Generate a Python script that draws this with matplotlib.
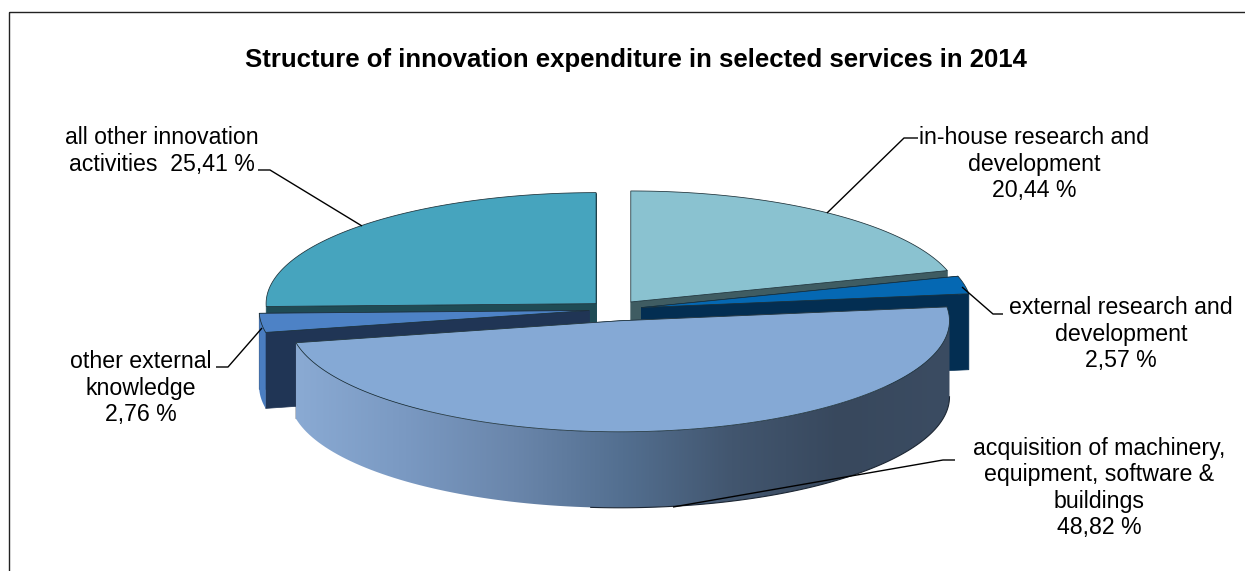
import numpy as np
import matplotlib
matplotlib.use('Agg')
import matplotlib.pyplot as plt
from matplotlib.colors import LinearSegmentedColormap
from matplotlib.patches import Polygon, Rectangle

plt.rcParams['font.family'] = ['Liberation Sans', 'DejaVu Sans']

title = 'Structure of innovation expenditure in selected services in 2014'
values = [20.44, 2.57, 48.82, 2.76, 25.41]
names = ['in-house research and\ndevelopment\n', 'external research and\ndevelopment\n',
         'acquisition of machinery,\nequipment, software &\nbuildings\n',
         'other external\nknowledge\n', 'all other innovation\nactivities  ']

top_cols = ['#8AC2D0', '#0568B3', '#85A9D5', '#4D82C6', '#46A4BE']
cut_cols = ['#3F5C62', '#032E52', '#39495E', '#203555', '#1F4B55']
rim_cols = ['#5E8A95', '#044A80', None, '#4A7DC0', '#2F7A8E']

# pie geometry, in picture pixels
cx0, cy0 = 614, 309.5
rx, ry = 330, 111
depth = 76
explode = [28, 28, 34, 25, 25]
draw_order = [4, 0, 3, 1, 2]

label_pos = [(1034, 164), (1121, 334), (1099.5, 488), (141, 388), (162, 151)]
leaders = [([918, 904, 827], [138, 138, 213]),
           ([1003, 993, 962], [314, 314, 287]),
           ([955, 943, 673], [460, 460, 507]),
           ([216, 228, 262], [367, 367, 328]),
           ([258, 270, 362], [170, 170, 226])]


def arc(cx, cy, a, b, n=120):
    t = np.radians(np.linspace(a, b, n))
    return np.column_stack([cx + rx * np.sin(t), cy - ry * np.cos(t)])


fig = plt.figure(figsize=(12.45, 5.71), dpi=100)
ax = fig.add_axes([0, 0, 1, 1])
ax.set_xlim(0, 1245)
ax.set_ylim(571, 0)
ax.axis('off')

ax.add_patch(Rectangle((9, 12), 1400, 800, fill=False, ec='#222222', lw=1.0, clip_on=True))

edges = np.concatenate([[0], np.cumsum(values)]) / sum(values) * 360
side_cmap = LinearSegmentedColormap.from_list(
    'side', ['#8AAAD3', '#7A99C2', '#6A86AB', '#536F90', '#42566F', '#38485D', '#3B4C62'])

z = 2
for i in draw_order:
    a, b = edges[i], edges[i + 1]
    mid = np.radians((a + b) / 2)
    cx = cx0 + explode[i] * np.sin(mid)
    cy = cy0 - explode[i] * np.cos(mid) * ry / rx

    # cut faces, pushed straight down by the depth
    for ang in (a, b):
        p = arc(cx, cy, ang, ang, 1)[0]
        face = [(cx, cy), tuple(p), (p[0], p[1] + depth), (cx, cy + depth)]
        ax.add_patch(Polygon(face, fc=cut_cols[i], ec=cut_cols[i], lw=0.5, zorder=z))
    z += 1

    # outer rim, only the part that faces the viewer
    lo, hi = max(a, 90), min(b, 270)
    if lo < hi:
        rim = arc(cx, cy, lo, hi)
        rim = np.vstack([rim, (rim + [0, depth])[::-1]])
        if rim_cols[i] is None:
            clip = Polygon(rim, fc='none', ec='none', zorder=z + 1)
            ax.add_patch(clip)
            im = ax.imshow(np.linspace(0, 1, 256)[None, :], cmap=side_cmap, aspect='auto',
                           extent=(rim[:, 0].min(), rim[:, 0].max(), rim[:, 1].max(), rim[:, 1].min()),
                           zorder=z)
            im.set_clip_path(clip)
            ax.set_xlim(0, 1245)
            ax.set_ylim(571, 0)
            # only the lower right of the rim has a dark outline
            low = arc(cx, cy + depth, lo, lo + 95)
            ax.plot(low[:, 0], low[:, 1], color='#1c2633', lw=0.8, zorder=z + 1)
        else:
            ax.add_patch(Polygon(rim, fc=rim_cols[i], ec='none', zorder=z))
        z += 2

    # top face
    top = np.vstack([[cx, cy], arc(cx, cy, a, b)])
    ax.add_patch(Polygon(top, fc=top_cols[i], ec='#1c3038', lw=0.55, zorder=z))
    z += 1

for (xs, ys) in leaders:
    ax.plot(xs, ys, color='black', lw=1.0, zorder=z, solid_capstyle='butt')

for name, v, (x, y) in zip(names, values, label_pos):
    txt = name + f'{v:.2f}'.replace('.', ',') + ' %'
    ax.text(x, y, txt, ha='center', va='center', fontsize=16.7, color='black',
            linespacing=1.2, zorder=z + 1)

ax.text(636, 60, title, ha='center', va='center', fontsize=18.55, fontweight='bold', color='black')

fig.savefig('out.png', dpi=100)
